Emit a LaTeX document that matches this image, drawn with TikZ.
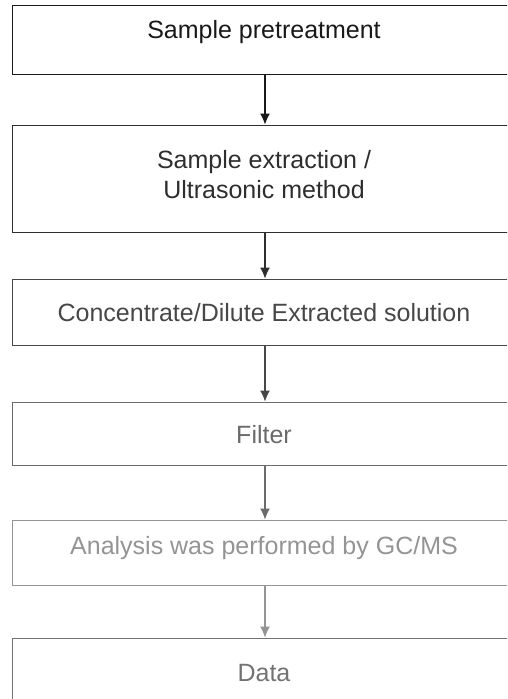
\documentclass[tikz,border=0pt]{standalone}
\usepackage{fontspec}
\setmainfont{Liberation Sans}
\usetikzlibrary{arrows.meta}
\colorlet{cA}{black!90}
\colorlet{cB}{black!82}
\colorlet{cC}{black!72}
\colorlet{cD}{black!58}
\colorlet{cE}{black!42}
\colorlet{cF}{black!55}
\begin{document}
\begin{tikzpicture}[x=1pt,y=-1pt,
  stepbox/.style={draw, line width=1pt, minimum width=506pt, inner sep=0pt, rectangle},
  lbl/.style={font=\fontsize{25}{30}\selectfont, align=center, inner sep=0pt},
  arr/.style={line width=1.2pt, -{Latex[length=11pt,width=10pt]}}]
\useasboundingbox (0,0) rectangle (507,699);
\clip (0,0) rectangle (507,699);
% boxes
\node[stepbox, draw=cA, minimum height=69pt]  (b1) at (265,39.5) {};
\node[stepbox, draw=cB, minimum height=107pt] (b2) at (265,178.5) {};
\node[stepbox, draw=cC, minimum height=66pt]  (b3) at (265,312) {};
\node[stepbox, draw=cD, minimum height=63pt]  (b4) at (265,433.5) {};
\node[stepbox, draw=cE, minimum height=65pt]  (b5) at (265,552.5) {};
\node[stepbox, draw=cF, minimum height=82pt]  (b6) at (265,679) {};
% labels
\node[lbl, text=cA] (t1) at (264,32) {Sample pretreatment};
\node[lbl, text=cB] (t2) at (264,175) {Sample extraction /\\Ultrasonic method};
\node[lbl, text=cC] (t3) at (264,313) {Concentrate/Dilute Extracted solution};
\node[lbl, text=cD] (t4) at (264,435) {Filter};
\node[lbl, text=cE] (t5) at (264,548) {Analysis was performed by GC/MS};
\node[lbl, text=cF] (t6) at (264,673) {Data};
% connectors
\draw[arr, cA] (b1.south) -- (b2.north);
\draw[arr, cB] (b2.south) -- (b3.north);
\draw[arr, cC] (b3.south) -- (b4.north);
\draw[arr, cD] (b4.south) -- (b5.north);
\draw[arr, cE] (b5.south) -- (b6.north);
\end{tikzpicture}
\end{document}
